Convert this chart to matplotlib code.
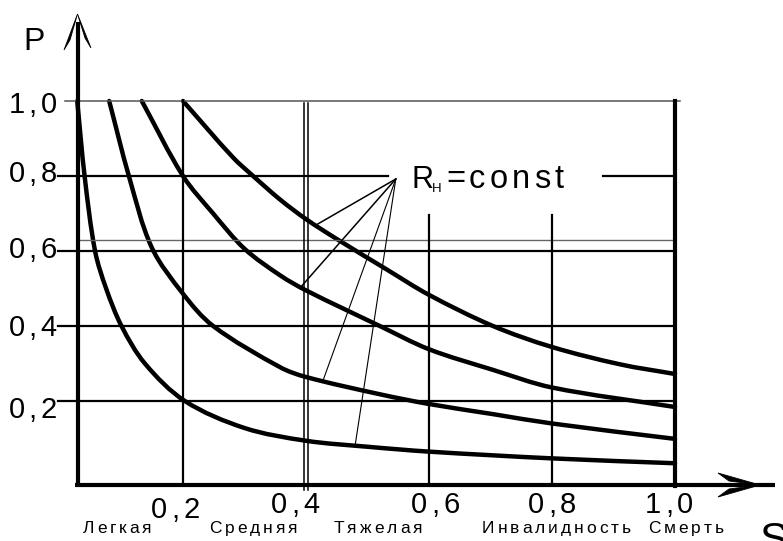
import matplotlib
matplotlib.use("Agg")
import matplotlib.pyplot as plt
from matplotlib.font_manager import FontProperties
from matplotlib.textpath import TextToPath
from matplotlib.patches import Polygon, PathPatch
from matplotlib.path import Path

# ---------------- data ----------------
s_ticks = [0.2, 0.4, 0.6, 0.8, 1.0]
s_tick_labels = ["0,2", "0,4", "0,6", "0,8", "1,0"]
p_ticks = [0.2, 0.4, 0.6, 0.8, 1.0]
p_tick_labels = ["0,2", "0,4", "0,6", "0,8", "1,0"]
severity_labels = ["Легкая", "Средняя", "Тяжелая", "Инвалидность", "Смерть"]
severity_pos = [0.093, 0.314, 0.517, 0.807, 1.018]

curve1_s = [0.028, 0.040, 0.057, 0.075, 0.100, 0.138, 0.203, 0.300, 0.400, 0.500, 0.600, 0.800, 1.000]
curve1_p = [1.000, 0.800, 0.600, 0.500, 0.400, 0.300, 0.200, 0.128, 0.094, 0.078, 0.065, 0.047, 0.034]

curve2_s = [0.080, 0.112, 0.149, 0.200, 0.249, 0.358, 0.400, 0.520, 0.600, 0.704, 0.800, 1.000]
curve2_p = [1.000, 0.800, 0.610, 0.486, 0.400, 0.290, 0.264, 0.218, 0.192, 0.165, 0.140, 0.099]

curve3_s = [0.133, 0.200, 0.249, 0.300, 0.358, 0.400, 0.520, 0.600, 0.704, 0.800, 1.000]
curve3_p = [1.000, 0.800, 0.700, 0.606, 0.535, 0.495, 0.400, 0.338, 0.283, 0.236, 0.184]

curve4_s = [0.200, 0.281, 0.314, 0.358, 0.400, 0.450, 0.532, 0.600, 0.704, 0.800, 0.910, 1.000]
curve4_p = [1.000, 0.850, 0.800, 0.737, 0.685, 0.632, 0.550, 0.483, 0.400, 0.344, 0.298, 0.272]

leader_apex = (0.546, 0.792)
leader_s = [0.416, 0.390, 0.428, 0.480]
leader_p = [0.669, 0.501, 0.256, 0.083]

# ---------------- layout ----------------
W, H, DPI = 783, 541, 100
X0, SX = 60.0, 615.0     # pixel x of S=0, pixels per unit S
Y0, SY = 476.0, 375.0    # pixel y of P=0, pixels per unit P
FONT = "Liberation Sans"

fig = plt.figure(figsize=(W / DPI, H / DPI), dpi=DPI)
ax = fig.add_axes([0, 0, 1, 1])
ax.set_xlim((0 - X0) / SX, (W - X0) / SX)
ax.set_ylim((Y0 - H) / SY, Y0 / SY)
ax.axis("off")

def ds(px):  # pixel x -> data S
    return (px - X0) / SX

def dp(py):  # pixel y -> data P
    return (Y0 - py) / SY

_t2p = TextToPath()

def spaced(x, y, s, size, gap, ha="center", weight="normal"):
    """Letter-spaced text; x, y in pixels (y = baseline, from top)."""
    fp = FontProperties(family=FONT, size=size, weight=weight)
    ws = [_t2p.get_text_width_height_descent(c, fp, ismath=False)[0] * DPI / 72 for c in s]
    total = sum(ws) + gap * (len(s) - 1)
    x0 = x - total / 2 if ha == "center" else (x - total if ha == "right" else x)
    for c, w in zip(s, ws):
        fig.text((x0 + w / 2) / W, 1 - y / H, c, ha="center", va="baseline",
                 fontproperties=fp, color="black")
        x0 += w + gap

def smooth_curve(xs, ys, **kw):
    """Draw a smooth (chord-length Hermite/Bezier) curve through the points."""
    pts = [(x * SX, y * SY) for x, y in zip(xs, ys)]
    n = len(pts)
    d = [((pts[i + 1][0] - pts[i][0]) ** 2 + (pts[i + 1][1] - pts[i][1]) ** 2) ** 0.5
         for i in range(n - 1)]
    tang = []
    for i in range(n):
        if i == 0:
            a, b, L = pts[0], pts[1], d[0]
        elif i == n - 1:
            a, b, L = pts[-2], pts[-1], d[-1]
        else:
            a, b, L = pts[i - 1], pts[i + 1], d[i - 1] + d[i]
        tang.append(((b[0] - a[0]) / L, (b[1] - a[1]) / L))
    verts = [pts[0]]
    codes = [Path.MOVETO]
    for i in range(n - 1):
        h = d[i] / 3
        c1 = (pts[i][0] + tang[i][0] * h, pts[i][1] + tang[i][1] * h)
        c2 = (pts[i + 1][0] - tang[i + 1][0] * h, pts[i + 1][1] - tang[i + 1][1] * h)
        verts += [c1, c2, pts[i + 1]]
        codes += [Path.CURVE4] * 3
    verts = [(vx / SX, vy / SY) for vx, vy in verts]
    ax.add_patch(PathPatch(Path(verts, codes), fill=False, **kw))

GRID_LW = 1.6
ax_lw = 3.0

# horizontal grid lines
for p in p_ticks[:-1]:
    if p == 0.8:
        ax.plot([ds(58), ds(388)], [p, p], color="black", lw=GRID_LW)
        ax.plot([ds(603), 1.0], [p, p], color="black", lw=GRID_LW)
    else:
        ax.plot([ds(58), 1.0], [p, p], color="black", lw=GRID_LW)
ax.plot([ds(65), ds(680)], [1.0, 1.0], color="#555555", lw=1.1)
ax.plot([ds(78), 1.0], [dp(240), dp(240)], color="#666666", lw=1.0)

# vertical grid lines
for s in s_ticks:
    if s == 0.2:
        ax.plot([s, s], [dp(484), 1.0], color="black", lw=GRID_LW)
    elif s == 0.4:
        for off in (-2.0, 1.5):
            ax.plot([s + off / SX, s + off / SX], [dp(490), dp(103)], color="black", lw=1.1)
    elif s == 1.0:
        ax.plot([s, s], [dp(486), 1.0], color="black", lw=3.0)
    else:
        ax.plot([s, s], [dp(484), dp(215)], color="black", lw=GRID_LW)

# axes
ax.plot([ds(78), ds(78)], [dp(487), dp(22)], color="black", lw=ax_lw, solid_capstyle="butt")
ax.plot([ds(75), ds(775)], [dp(485), dp(485)], color="black", lw=ax_lw, solid_capstyle="butt")

def tri(pts):
    ax.add_patch(Polygon([(ds(x), dp(y)) for x, y in pts], closed=True,
                         facecolor="black", edgecolor="black", lw=0.6))

# arrow heads
tri([(77.5, 14), (64, 50), (70, 40)])
tri([(77.5, 14), (91, 48), (85, 38)])
tri([(760, 485), (718, 473), (729, 481)])
tri([(760, 485), (718, 497), (729, 489)])

# curves
for xs, ys in [(curve1_s, curve1_p), (curve2_s, curve2_p),
               (curve3_s, curve3_p), (curve4_s, curve4_p)]:
    smooth_curve(xs, ys, edgecolor="black", lw=3.2, capstyle="round", joinstyle="round")

# leader lines
for i, (s, p) in enumerate(zip(leader_s, leader_p)):
    ax.plot([leader_apex[0], s], [leader_apex[1], p], color="black",
            lw=1.1 if i < 2 else 0.8)

# y tick labels
y_nudge = [7, 0, -3, -4, 2]
for p, lab, n in zip(p_ticks, p_tick_labels, y_nudge):
    py = Y0 - p * SY
    spaced(57, py + 10 + n, lab, 21, 4, ha="right")

# x tick labels
x_nudge = [-8, -11, 6, 0, -6]
x_base = [518, 513, 513, 513, 513]
for s, lab, n, b in zip(s_ticks, s_tick_labels, x_nudge, x_base):
    spaced(X0 + s * SX + n, b, lab, 21, 4, ha="center")

# severity labels
for s, lab in zip(severity_pos, severity_labels):
    spaced(X0 + s * SX, 533, lab, 12.5, 3.0, ha="center")

# axis titles
fig.text(23 / W, 1 - 50 / H, "P", fontsize=23, family=FONT, ha="left", va="baseline")
fig.text(759 / W, 1 - 552 / H, "S", fontsize=31, family=FONT, ha="left", va="baseline")

# R_H = const
fig.text(411 / W, 1 - 188 / H, "R", fontsize=22, family=FONT, ha="left", va="baseline")
fig.text(432 / W, 1 - 192 / H, "H", fontsize=9.5, family=FONT, ha="left", va="baseline")
spaced(446, 188, "=const", 23.5, 4, ha="left")

fig.savefig("out.png", dpi=DPI)
